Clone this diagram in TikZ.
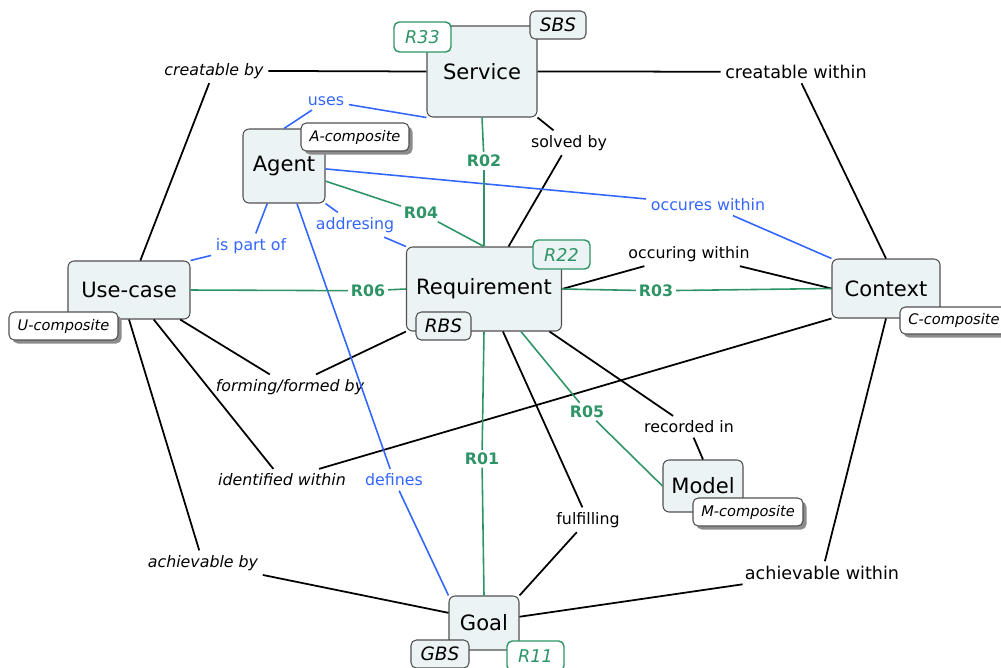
\documentclass[tikz,border=0pt]{standalone}
\usepackage{fontspec}
\setmainfont{DejaVu Sans}
\usetikzlibrary{shadows}
\definecolor{conceptfill}{HTML}{ECF3F4}
\definecolor{boxline}{HTML}{505050}
\definecolor{relgreen}{HTML}{2E9466}
\definecolor{relblue}{HTML}{3366FF}

\begin{document}
\begin{tikzpicture}[x=0.02cm,y=-0.02cm,
  concept/.style={draw=boxline,fill=conceptfill,rounded corners=3.5pt,line width=0.6pt,inner sep=0pt,font=\fontsize{12}{14}\selectfont},
  composite/.style={draw=boxline,fill=white,rounded corners=3pt,line width=0.6pt,inner sep=0pt,minimum height=0.56cm,font=\fontsize{8.3}{10}\selectfont\itshape,drop shadow={shadow xshift=2pt,shadow yshift=-2pt,fill=black!45,opacity=1}},
  breakdown/.style={draw=boxline,fill=conceptfill,rounded corners=3pt,line width=0.6pt,inner sep=0pt,minimum height=0.56cm,minimum width=1.12cm,font=\fontsize{10.5}{12}\selectfont\itshape},
  reftag/.style={draw=relgreen,fill=white,text=relgreen,rounded corners=3pt,line width=0.8pt,inner sep=0pt,minimum height=0.6cm,minimum width=1.14cm,font=\fontsize{10}{12}\selectfont\itshape},
  link/.style={inner sep=2.5pt,yshift=-1pt,font=\fontsize{9}{11}\selectfont},
  linkit/.style={inner sep=2.5pt,yshift=-1pt,font=\fontsize{9}{11}\selectfont\itshape},
  linkblue/.style={link,text=relblue},
  linkid/.style={inner sep=1.5pt,yshift=-1pt,text=relgreen,font=\fontsize{9}{11}\selectfont\bfseries}]
\useasboundingbox (0,0) rectangle (1001,667);

\node[concept,minimum width=2.2cm,minimum height=1.82cm] (svc) at (482,71.5) {Service};
\node[concept,minimum width=1.64cm,minimum height=1.48cm] (agent) at (284,166) {Agent};
\node[concept,minimum width=2.44cm,minimum height=1.16cm] (uc) at (129,290) {Use-case};
\node[concept,minimum width=3.1cm,minimum height=1.68cm] (req) at (484,289) {Requirement};
\node[concept,minimum width=2.16cm,minimum height=1.18cm] (ctx) at (886,288.5) {Context};
\node[concept,minimum width=1.6cm,minimum height=1.04cm] (model) at (703,486) {Model};
\node[concept,minimum width=1.4cm,minimum height=1.08cm] (goal) at (484,623) {Goal};

\node[linkit] (crby) at (214,69) {creatable by};
\node[link,font=\fontsize{10}{12}\selectfont] (crwi) at (796,70) {creatable within};
\node[link] (solv) at (569,141) {solved by};
\node[link] (occw) at (689,252) {occuring within};
\node[linkit] (form) at (290,385) {forming/formed by};
\node[linkit] (idwi) at (282,478) {identified within};
\node[linkit] (achby) at (203,561) {achievable by};
\node[link] (fulf) at (588,518) {fulfilling};
\node[link] (recd) at (689,425) {recorded in};
\node[link,font=\fontsize{10}{12}\selectfont] (achwi) at (822,571) {achievable within};

\node[linkblue] (uses) at (326,99) {uses};
\node[linkblue] (ispart) at (251,244) {is part of};
\node[linkblue] (addr) at (355,223) {addresing};
\node[linkblue] (occs) at (708,203) {occures within};
\node[linkblue] (defs) at (394,478) {defines};

\node[linkid] (r02) at (484,159) {R02};
\node[linkid] (r04) at (421,211) {R04};
\node[linkid] (r06) at (368,289) {R06};
\node[linkid] (r03) at (656,289) {R03};
\node[linkid] (r05) at (587,410) {R05};
\node[linkid] (r01) at (482,457) {R01};

\path[line width=1pt] (svc.west) edge (crby) (crby) edge (uc.69)
(svc.east) edge (crwi) (crwi) edge (ctx.north)
(svc.south east) edge (solv) (solv) edge (req.60)
(req.east) edge (occw) (occw) edge (ctx.west)
(uc.-30) edge (form) (form) edge (req.south west)
(uc.-50) edge (idwi) (idwi) edge (ctx.south west)
(uc.south) edge (achby) (achby) edge (goal.164)
(req.-66) edge (fulf) (fulf) edge (goal.north east)
(req.-33) edge (recd) (recd) edge (model.north)
(goal.10) edge (achwi) (achwi) edge (ctx.south);

\path[relblue,line width=0.9pt] (agent.north) edge (uses) (uses) edge (svc.south west)
(agent.246) edge (ispart) (ispart) edge (uc.north east)
(agent.south east) edge (addr) (addr) edge (req.north west)
(agent.-4) edge (occs) (occs) edge (ctx.north west)
(agent.-71) edge (defs) (defs) edge (goal.north west);

\path[relgreen,line width=0.9pt] (svc.south) edge (r02) (r02) edge (req.north)
(agent.-20) edge (r04) (r04) edge (req.north)
(uc.east) edge (r06) (r06) edge (req.west)
(req.east) edge (r03) (r03) edge (ctx.west)
(req.-49) edge (r05) (r05) edge (model.west)
(req.south) edge (r01) (r01) edge (goal.north);

\node[breakdown] (sbs) at (558,25) {SBS};
\node[reftag] (r33) at (422.5,37) {R33};
\node[composite,minimum width=2.16cm] (acomp) at (355,137) {A-composite};
\node[composite,minimum width=2.18cm] (ucomp) at (63.5,326) {U-composite};
\node[reftag,fill=conceptfill,minimum height=0.58cm] (r22) at (561.5,254.5) {R22};
\node[breakdown,minimum width=1.1cm] (rbs) at (443.5,326) {RBS};
\node[composite,minimum width=2.16cm,minimum height=0.54cm] (ccomp) at (954,320.5) {C-composite};
\node[composite,minimum width=2.2cm] (mcomp) at (748,512) {M-composite};
\node[breakdown,minimum width=1.16cm] (gbs) at (440,654) {GBS};
\node[reftag] (r11) at (535.5,656) {R11};
\end{tikzpicture}
\end{document}
